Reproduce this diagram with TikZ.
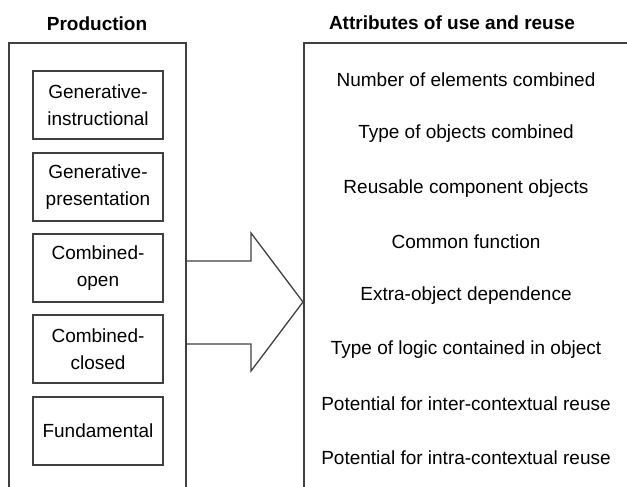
\documentclass[tikz,border=0pt]{standalone}
\usepackage{fontspec}
\setmainfont{Liberation Sans}
\begin{document}
\begin{tikzpicture}[x=1pt, y=-1pt,
  bordo/.style={draw=black!75, line width=1.6pt},
  tipo/.style={bordo, minimum width=130pt, minimum height=68pt, inner sep=0pt,
    align=center, font=\fontsize{19}{27}\selectfont},
  attributo/.style={font=\fontsize{19}{22}\selectfont},
  titolo/.style={font=\bfseries\fontsize{19}{22}\selectfont}]
  \useasboundingbox (0,0) rectangle (627,487);
  \clip (0,0) rectangle (627,487);

  % titoli
  \node[titolo] (prod) at (97,24) {Production};
  \node[titolo] (attr) at (452,23) {Attributes of use and reuse};

  % riquadri esterni (tagliati in basso)
  \draw[bordo] (9,500) -- (9,43) -- (186,43) -- (186,500);
  \draw[bordo] (304,500) -- (304,43) -- (640,43);

  % tipi di produzione
  \node[tipo] (geninstr) at (98,105) {Generative-\\instructional};
  \node[tipo] (genpres) at (98,187) {Generative-\\presentation};
  \node[tipo] (combopen) at (98,268) {Combined-\\open};
  \node[tipo] (combclosed) at (98,349) {Combined-\\closed};
  \node[tipo] (fund) at (98,431) {Fundamental};

  % freccia tra i due riquadri
  \coordinate (coda) at (186,302);
  \coordinate (punta) at (303,302);
  \draw[bordo, line width=1.3pt, line join=miter]
    (coda) ++(0,-41) -- ++(65,0) -- ++(0,-28) -- (punta)
    -- ++(-52,69) -- ++(0,-27) -- ++(-65,0);

  % attributi
  \node[attributo] (numel) at (466,80) {Number of elements combined};
  \node[attributo] (tipoogg) at (466,134) {Type of objects combined};
  \node[attributo] (riusab) at (466,189) {Reusable component objects};
  \node[attributo] (funz) at (466,242) {Common function};
  \node[attributo] (extra) at (466,296) {Extra-object dependence};
  \node[attributo] (logica) at (466,350) {Type of logic contained in object};
  \node[attributo] (inter) at (466,404) {Potential for inter-contextual reuse};
  \node[attributo] (intra) at (466,458) {Potential for intra-contextual reuse};
\end{tikzpicture}
\end{document}
